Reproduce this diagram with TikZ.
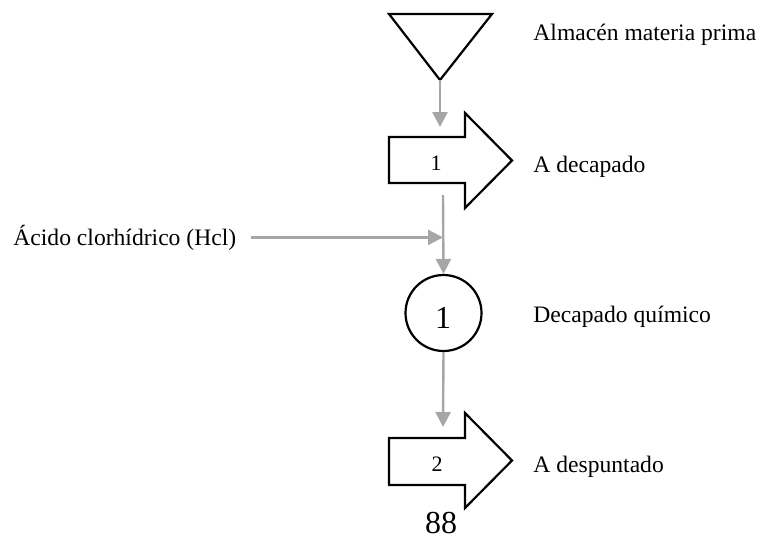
\documentclass[tikz,border=0pt]{standalone}
\usepackage{fontspec}
\setmainfont{Liberation Serif}
\usepackage{tikz}
\usetikzlibrary{arrows.meta}
\definecolor{flowgray}{RGB}{166,166,166}

\begin{document}
\begin{tikzpicture}[x=0.5pt,y=-0.5pt,
   font=\fontsize{11.8}{14}\selectfont,
   txt/.style={anchor=base west,inner sep=0pt},
   num/.style={anchor=base,inner sep=0pt,font=\fontsize{11}{13}\selectfont}]

\tikzstyle{flow} = [-{Triangle[length=7.5pt,width=7.5pt]}, draw=flowgray, fill=flowgray, line width=1.2pt]
\tikzstyle{outline} = [draw=black, line width=1.1pt, line join=miter]

\useasboundingbox (0,0) rectangle (760,537);

% almacen
\draw[outline] (389,14) -- (492,14) -- (440,80) -- cycle;
\coordinate (alm) at (440,80);
\node[txt] (almtxt) at (533,40) {Almacén materia prima};

% transporte 1
\draw[outline] (389,137) -- (465,137) -- (465,113) -- (512,160.5) -- (465,208)
   -- (465,183) -- (389,183) -- cycle;
\node[num] (t1) at (436,170) {1};
\node[txt] (t1txt) at (533,172) {A decapado};
\coordinate (t1in) at (440,127);
\coordinate (t1out) at (443,195);

% acido
\node[txt] (acido) at (13,245) {Ácido clorhídrico (Hcl)};
\coordinate (mix) at (443,236);

% operacion 1
\node[outline,circle,minimum size=38pt,inner sep=0pt] (op1) at (443.5,313) {};
\node[anchor=base,inner sep=0pt,font=\fontsize{16}{18}\selectfont] (op1num) at (443,328) {1};
\node[txt] (op1txt) at (533,322) {Decapado químico};

% transporte 2
\draw[outline] (389,438) -- (465,438) -- (465,413) -- (512,460.5) -- (465,508)
   -- (465,485) -- (389,485) -- cycle;
\node[num] (t2) at (437,471) {2};
\node[txt] (t2txt) at (533,472) {A despuntado};
\coordinate (t2in) at (443,427);

\node[anchor=base,inner sep=0pt,font=\fontsize{16}{18}\selectfont] (pag) at (441,533) {88};

\path (alm) edge [flow] (t1in);
\path (t1out) edge [flow] (op1.north);
\draw[flow] ([xshift=7pt]acido.east) -- (acido.east -| mix);
\path (op1.south) edge [flow] (t2in);

\end{tikzpicture}
\end{document}
